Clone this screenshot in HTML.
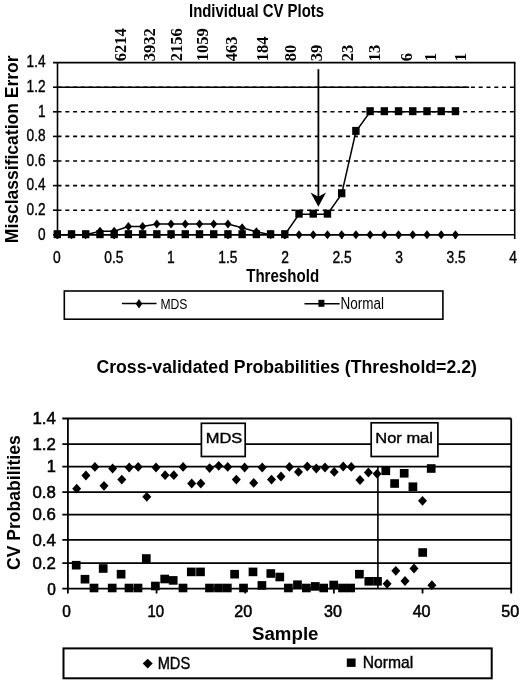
<!DOCTYPE html>
<html><head><meta charset="utf-8"><style>
html,body{margin:0;padding:0;background:#fff;width:520px;height:684px;overflow:hidden}
svg{display:block;will-change:transform}
text{font-family:"Liberation Sans", sans-serif;fill:#000}
</style></head><body>
<svg width="520" height="684" viewBox="0 0 520 684">
<text x="189" y="17" font-size="18.3" font-weight="bold" textLength="135" lengthAdjust="spacingAndGlyphs" text-anchor="start">Individual CV Plots</text>
<text transform="translate(126.2,61.3) rotate(-90)" font-size="17.6" font-weight="bold" textLength="33.0" lengthAdjust="spacingAndGlyphs" text-anchor="start" font-family="Liberation Serif" style="font-family:'Liberation Serif', serif">6214</text>
<text transform="translate(155.0,61.3) rotate(-90)" font-size="17.6" font-weight="bold" textLength="33.0" lengthAdjust="spacingAndGlyphs" text-anchor="start" font-family="Liberation Serif" style="font-family:'Liberation Serif', serif">3932</text>
<text transform="translate(182.2,61.3) rotate(-90)" font-size="17.6" font-weight="bold" textLength="33.0" lengthAdjust="spacingAndGlyphs" text-anchor="start" font-family="Liberation Serif" style="font-family:'Liberation Serif', serif">2156</text>
<text transform="translate(208.3,61.3) rotate(-90)" font-size="17.6" font-weight="bold" textLength="33.0" lengthAdjust="spacingAndGlyphs" text-anchor="start" font-family="Liberation Serif" style="font-family:'Liberation Serif', serif">1059</text>
<text transform="translate(237.1,61.3) rotate(-90)" font-size="17.6" font-weight="bold" textLength="24.75" lengthAdjust="spacingAndGlyphs" text-anchor="start" font-family="Liberation Serif" style="font-family:'Liberation Serif', serif">463</text>
<text transform="translate(268.3,61.3) rotate(-90)" font-size="17.6" font-weight="bold" textLength="24.75" lengthAdjust="spacingAndGlyphs" text-anchor="start" font-family="Liberation Serif" style="font-family:'Liberation Serif', serif">184</text>
<text transform="translate(295.5,61.3) rotate(-90)" font-size="17.6" font-weight="bold" textLength="16.5" lengthAdjust="spacingAndGlyphs" text-anchor="start" font-family="Liberation Serif" style="font-family:'Liberation Serif', serif">80</text>
<text transform="translate(321.8,61.3) rotate(-90)" font-size="17.6" font-weight="bold" textLength="16.5" lengthAdjust="spacingAndGlyphs" text-anchor="start" font-family="Liberation Serif" style="font-family:'Liberation Serif', serif">39</text>
<text transform="translate(352.9,61.3) rotate(-90)" font-size="17.6" font-weight="bold" textLength="16.5" lengthAdjust="spacingAndGlyphs" text-anchor="start" font-family="Liberation Serif" style="font-family:'Liberation Serif', serif">23</text>
<text transform="translate(380.2,61.3) rotate(-90)" font-size="17.6" font-weight="bold" textLength="16.5" lengthAdjust="spacingAndGlyphs" text-anchor="start" font-family="Liberation Serif" style="font-family:'Liberation Serif', serif">13</text>
<text transform="translate(411.5,61.3) rotate(-90)" font-size="17.6" font-weight="bold" textLength="8.25" lengthAdjust="spacingAndGlyphs" text-anchor="start" font-family="Liberation Serif" style="font-family:'Liberation Serif', serif">6</text>
<text transform="translate(436.3,61.3) rotate(-90)" font-size="17.6" font-weight="bold" textLength="8.25" lengthAdjust="spacingAndGlyphs" text-anchor="start" font-family="Liberation Serif" style="font-family:'Liberation Serif', serif">1</text>
<text transform="translate(466.0,61.3) rotate(-90)" font-size="17.6" font-weight="bold" textLength="8.25" lengthAdjust="spacingAndGlyphs" text-anchor="start" font-family="Liberation Serif" style="font-family:'Liberation Serif', serif">1</text>
<g stroke="#000" stroke-width="1.6"><line x1="57.5" y1="111.80" x2="514.7" y2="111.80" stroke-dasharray="4 3.8"/><line x1="57.5" y1="136.40" x2="514.7" y2="136.40" stroke-dasharray="4 3.8"/><line x1="57.5" y1="161.00" x2="514.7" y2="161.00" stroke-dasharray="4 3.8"/><line x1="57.5" y1="185.60" x2="514.7" y2="185.60" stroke-dasharray="4 3.8"/><line x1="57.5" y1="210.20" x2="514.7" y2="210.20" stroke-dasharray="4 3.8"/><line x1="57.5" y1="87.20" x2="514.7" y2="87.20" stroke-dasharray="4 3.8"/><line x1="57.5" y1="87.20" x2="469.2" y2="87.20"/></g>
<g stroke="#000" stroke-width="1.6"><line x1="53" y1="62.6" x2="515.5" y2="62.6"/><line x1="514.7" y1="62.6" x2="514.7" y2="239"/><line x1="57.5" y1="62.6" x2="57.5" y2="239"/><line x1="57.5" y1="234.8" x2="514.7" y2="234.8"/><line x1="53" y1="87.20" x2="57.5" y2="87.20"/><line x1="53" y1="111.80" x2="57.5" y2="111.80"/><line x1="53" y1="136.40" x2="57.5" y2="136.40"/><line x1="53" y1="161.00" x2="57.5" y2="161.00"/><line x1="53" y1="185.60" x2="57.5" y2="185.60"/><line x1="53" y1="210.20" x2="57.5" y2="210.20"/><line x1="53" y1="234.80" x2="57.5" y2="234.80"/><line x1="114.17" y1="234.8" x2="114.17" y2="239"/><line x1="171.05" y1="234.8" x2="171.05" y2="239"/><line x1="227.93" y1="234.8" x2="227.93" y2="239"/><line x1="284.80" y1="234.8" x2="284.80" y2="239"/><line x1="341.68" y1="234.8" x2="341.68" y2="239"/><line x1="398.55" y1="234.8" x2="398.55" y2="239"/><line x1="455.43" y1="234.8" x2="455.43" y2="239"/></g>
<text x="45.6" y="67.3" font-size="16.5" textLength="19" lengthAdjust="spacingAndGlyphs" text-anchor="end" stroke="#000" stroke-width="0.4">1.4</text>
<text x="45.6" y="91.89999999999999" font-size="16.5" textLength="19" lengthAdjust="spacingAndGlyphs" text-anchor="end" stroke="#000" stroke-width="0.4">1.2</text>
<text x="45.6" y="116.5" font-size="16.5" textLength="7.6" lengthAdjust="spacingAndGlyphs" text-anchor="end" stroke="#000" stroke-width="0.4">1</text>
<text x="45.6" y="141.09999999999997" font-size="16.5" textLength="19" lengthAdjust="spacingAndGlyphs" text-anchor="end" stroke="#000" stroke-width="0.4">0.8</text>
<text x="45.6" y="165.7" font-size="16.5" textLength="19" lengthAdjust="spacingAndGlyphs" text-anchor="end" stroke="#000" stroke-width="0.4">0.6</text>
<text x="45.6" y="190.29999999999998" font-size="16.5" textLength="19" lengthAdjust="spacingAndGlyphs" text-anchor="end" stroke="#000" stroke-width="0.4">0.4</text>
<text x="45.6" y="214.9" font-size="16.5" textLength="19" lengthAdjust="spacingAndGlyphs" text-anchor="end" stroke="#000" stroke-width="0.4">0.2</text>
<text x="45.6" y="239.5" font-size="16.5" textLength="7.6" lengthAdjust="spacingAndGlyphs" text-anchor="end" stroke="#000" stroke-width="0.4">0</text>
<text x="56.8" y="263" font-size="17" textLength="7.7" lengthAdjust="spacingAndGlyphs" text-anchor="middle" stroke="#000" stroke-width="0.4">0</text>
<text x="113.85" y="263" font-size="17" textLength="19.2" lengthAdjust="spacingAndGlyphs" text-anchor="middle" stroke="#000" stroke-width="0.4">0.5</text>
<text x="170.89999999999998" y="263" font-size="17" textLength="7.7" lengthAdjust="spacingAndGlyphs" text-anchor="middle" stroke="#000" stroke-width="0.4">1</text>
<text x="227.95" y="263" font-size="17" textLength="19.2" lengthAdjust="spacingAndGlyphs" text-anchor="middle" stroke="#000" stroke-width="0.4">1.5</text>
<text x="285.0" y="263" font-size="17" textLength="7.7" lengthAdjust="spacingAndGlyphs" text-anchor="middle" stroke="#000" stroke-width="0.4">2</text>
<text x="342.05" y="263" font-size="17" textLength="19.2" lengthAdjust="spacingAndGlyphs" text-anchor="middle" stroke="#000" stroke-width="0.4">2.5</text>
<text x="399.09999999999997" y="263" font-size="17" textLength="7.7" lengthAdjust="spacingAndGlyphs" text-anchor="middle" stroke="#000" stroke-width="0.4">3</text>
<text x="456.15" y="263" font-size="17" textLength="19.2" lengthAdjust="spacingAndGlyphs" text-anchor="middle" stroke="#000" stroke-width="0.4">3.5</text>
<text x="513.1999999999999" y="263" font-size="17" textLength="7.7" lengthAdjust="spacingAndGlyphs" text-anchor="middle" stroke="#000" stroke-width="0.4">4</text>
<text x="246.2" y="282.3" font-size="18.6" font-weight="bold" textLength="72.9" lengthAdjust="spacingAndGlyphs" text-anchor="start">Threshold</text>
<text transform="translate(17.7,243.2) rotate(-90)" font-size="18.7" font-weight="bold" textLength="187.8" lengthAdjust="spacingAndGlyphs" text-anchor="start">Misclassification Error</text>
<polyline points="57.30,234.80 71.52,234.80 85.74,234.80 99.96,231.30 114.17,231.30 128.39,226.60 142.61,226.60 156.83,224.10 171.05,224.10 185.27,224.10 199.49,224.10 213.71,224.10 227.93,224.10 242.14,227.70 256.36,231.80 270.58,234.80 284.80,234.80 299.02,234.80 313.24,234.80 327.46,234.80 341.68,234.80 355.89,234.80 370.11,234.80 384.33,234.80 398.55,234.80 412.77,234.80 426.99,234.80 441.21,234.80 455.43,234.80" fill="none" stroke="#000" stroke-width="1.5"/>
<g><path d="M57.30 230.30L60.90 234.80L57.30 239.30L53.70 234.80Z"/><path d="M71.52 230.30L75.12 234.80L71.52 239.30L67.92 234.80Z"/><path d="M85.74 230.30L89.34 234.80L85.74 239.30L82.14 234.80Z"/><path d="M99.96 226.80L103.56 231.30L99.96 235.80L96.36 231.30Z"/><path d="M114.17 226.80L117.77 231.30L114.17 235.80L110.58 231.30Z"/><path d="M128.39 222.10L131.99 226.60L128.39 231.10L124.79 226.60Z"/><path d="M142.61 222.10L146.21 226.60L142.61 231.10L139.01 226.60Z"/><path d="M156.83 219.60L160.43 224.10L156.83 228.60L153.23 224.10Z"/><path d="M171.05 219.60L174.65 224.10L171.05 228.60L167.45 224.10Z"/><path d="M185.27 219.60L188.87 224.10L185.27 228.60L181.67 224.10Z"/><path d="M199.49 219.60L203.09 224.10L199.49 228.60L195.89 224.10Z"/><path d="M213.71 219.60L217.31 224.10L213.71 228.60L210.11 224.10Z"/><path d="M227.93 219.60L231.53 224.10L227.93 228.60L224.33 224.10Z"/><path d="M242.14 223.20L245.74 227.70L242.14 232.20L238.54 227.70Z"/><path d="M256.36 227.30L259.96 231.80L256.36 236.30L252.76 231.80Z"/><path d="M270.58 230.30L274.18 234.80L270.58 239.30L266.98 234.80Z"/><path d="M284.80 230.30L288.40 234.80L284.80 239.30L281.20 234.80Z"/><path d="M299.02 230.30L302.62 234.80L299.02 239.30L295.42 234.80Z"/><path d="M313.24 230.30L316.84 234.80L313.24 239.30L309.64 234.80Z"/><path d="M327.46 230.30L331.06 234.80L327.46 239.30L323.86 234.80Z"/><path d="M341.68 230.30L345.28 234.80L341.68 239.30L338.07 234.80Z"/><path d="M355.89 230.30L359.49 234.80L355.89 239.30L352.29 234.80Z"/><path d="M370.11 230.30L373.71 234.80L370.11 239.30L366.51 234.80Z"/><path d="M384.33 230.30L387.93 234.80L384.33 239.30L380.73 234.80Z"/><path d="M398.55 230.30L402.15 234.80L398.55 239.30L394.95 234.80Z"/><path d="M412.77 230.30L416.37 234.80L412.77 239.30L409.17 234.80Z"/><path d="M426.99 230.30L430.59 234.80L426.99 239.30L423.39 234.80Z"/><path d="M441.21 230.30L444.81 234.80L441.21 239.30L437.61 234.80Z"/><path d="M455.43 230.30L459.03 234.80L455.43 239.30L451.82 234.80Z"/></g>
<polyline points="57.30,234.80 71.52,234.80 85.74,234.80 99.96,234.80 114.17,234.80 128.39,234.80 142.61,234.80 156.83,234.80 171.05,234.80 185.27,234.80 199.49,234.80 213.71,234.80 227.93,234.80 242.14,234.80 256.36,234.80 270.58,234.80 284.80,234.80 299.02,214.26 313.24,214.26 327.46,214.26 341.68,193.84 355.89,131.50 370.11,111.80 384.33,111.80 398.55,111.80 412.77,111.80 426.99,111.80 441.21,111.80 455.43,111.80" fill="none" stroke="#000" stroke-width="1.5"/>
<g><rect x="53.60" y="230.20" width="7.40" height="8.00"/><rect x="67.82" y="230.20" width="7.40" height="8.00"/><rect x="82.04" y="230.20" width="7.40" height="8.00"/><rect x="96.26" y="230.20" width="7.40" height="8.00"/><rect x="110.47" y="230.20" width="7.40" height="8.00"/><rect x="124.69" y="230.20" width="7.40" height="8.00"/><rect x="138.91" y="230.20" width="7.40" height="8.00"/><rect x="153.13" y="230.20" width="7.40" height="8.00"/><rect x="167.35" y="230.20" width="7.40" height="8.00"/><rect x="181.57" y="230.20" width="7.40" height="8.00"/><rect x="195.79" y="230.20" width="7.40" height="8.00"/><rect x="210.01" y="230.20" width="7.40" height="8.00"/><rect x="224.23" y="230.20" width="7.40" height="8.00"/><rect x="238.44" y="230.20" width="7.40" height="8.00"/><rect x="252.66" y="230.20" width="7.40" height="8.00"/><rect x="266.88" y="230.20" width="7.40" height="8.00"/><rect x="281.10" y="230.20" width="7.40" height="8.00"/><rect x="295.32" y="209.66" width="7.40" height="8.00"/><rect x="309.54" y="209.66" width="7.40" height="8.00"/><rect x="323.76" y="209.66" width="7.40" height="8.00"/><rect x="337.98" y="189.24" width="7.40" height="8.00"/><rect x="352.19" y="126.90" width="7.40" height="8.00"/><rect x="366.41" y="107.20" width="7.40" height="8.00"/><rect x="380.63" y="107.20" width="7.40" height="8.00"/><rect x="394.85" y="107.20" width="7.40" height="8.00"/><rect x="409.07" y="107.20" width="7.40" height="8.00"/><rect x="423.29" y="107.20" width="7.40" height="8.00"/><rect x="437.51" y="107.20" width="7.40" height="8.00"/><rect x="451.73" y="107.20" width="7.40" height="8.00"/></g>
<line x1="318.4" y1="69.2" x2="318.4" y2="199" stroke="#000" stroke-width="1.8"/>
<path d="M310.6 192.6L318.4 196.8L326 192.6L318.4 206.8Z"/>
<rect x="64.3" y="291" width="378.6" height="28.2" fill="none" stroke="#000" stroke-width="1.6"/>
<line x1="121.9" y1="303.6" x2="156.5" y2="303.6" stroke="#000" stroke-width="1.5"/>
<path d="M139.00 299.00L142.30 303.80L139.00 308.60L135.70 303.80Z"/>
<text x="160.4" y="309.1" font-size="14.6" textLength="27.0" lengthAdjust="spacingAndGlyphs" text-anchor="start">MDS</text>
<line x1="304.5" y1="303.8" x2="339.6" y2="303.8" stroke="#000" stroke-width="1.5"/>
<rect x="318.40" y="299.80" width="6.00" height="7.00"/>
<text x="340.5" y="309.4" font-size="15.6" textLength="43.5" lengthAdjust="spacingAndGlyphs" text-anchor="start">Normal</text>
<text x="96.4" y="373.1" font-size="17.5" font-weight="bold" textLength="380.5" lengthAdjust="spacingAndGlyphs" text-anchor="start">Cross-validated Probabilities (Threshold=2.2)</text>
<g stroke="#000" stroke-width="1.8"><line x1="62.3" y1="418.5" x2="511.2" y2="418.5"/><line x1="62.3" y1="444.1" x2="511.2" y2="444.1"/><line x1="62.3" y1="466.6" x2="511.2" y2="466.6"/><line x1="62.3" y1="492.2" x2="511.2" y2="492.2"/><line x1="62.3" y1="514.6" x2="511.2" y2="514.6"/><line x1="62.3" y1="539.9" x2="511.2" y2="539.9"/><line x1="62.3" y1="563.2" x2="511.2" y2="563.2"/><line x1="62.3" y1="588.7" x2="511.2" y2="588.7"/><line x1="67.9" y1="418.5" x2="67.9" y2="593.5"/><line x1="511.2" y1="418.5" x2="511.2" y2="593.5"/><line x1="156.56" y1="588.7" x2="156.56" y2="593.5"/><line x1="245.22" y1="588.7" x2="245.22" y2="593.5"/><line x1="333.88" y1="588.7" x2="333.88" y2="593.5"/><line x1="422.54" y1="588.7" x2="422.54" y2="593.5"/></g>
<line x1="377.9" y1="466.6" x2="377.9" y2="588.7" stroke="#000" stroke-width="1.6"/>
<rect x="201.4" y="423.3" width="43.8" height="33.2" fill="#fff" stroke="#000" stroke-width="1.7"/>
<text x="205.7" y="443.3" font-size="15.5" textLength="36.6" lengthAdjust="spacingAndGlyphs" text-anchor="start" stroke="#000" stroke-width="0.4">MDS</text>
<rect x="371.2" y="422.8" width="66.7" height="33.7" fill="#fff" stroke="#000" stroke-width="1.7"/>
<text x="375.3" y="443.1" font-size="15.5" textLength="57.6" lengthAdjust="spacingAndGlyphs" text-anchor="start" stroke="#000" stroke-width="0.4">Nor mal</text>
<text x="55.9" y="424.3" font-size="16.4" textLength="23.4" lengthAdjust="spacingAndGlyphs" text-anchor="end" stroke="#000" stroke-width="0.55">1.4</text>
<text x="55.9" y="449.90000000000003" font-size="16.4" textLength="23.4" lengthAdjust="spacingAndGlyphs" text-anchor="end" stroke="#000" stroke-width="0.55">1.2</text>
<text x="55.9" y="472.40000000000003" font-size="16.4" text-anchor="end" stroke="#000" stroke-width="0.55">1</text>
<text x="55.9" y="498.0" font-size="16.4" textLength="23.4" lengthAdjust="spacingAndGlyphs" text-anchor="end" stroke="#000" stroke-width="0.55">0.8</text>
<text x="55.9" y="520.4" font-size="16.4" textLength="23.4" lengthAdjust="spacingAndGlyphs" text-anchor="end" stroke="#000" stroke-width="0.55">0.6</text>
<text x="55.9" y="545.6999999999999" font-size="16.4" textLength="23.4" lengthAdjust="spacingAndGlyphs" text-anchor="end" stroke="#000" stroke-width="0.55">0.4</text>
<text x="55.9" y="569.0" font-size="16.4" textLength="23.4" lengthAdjust="spacingAndGlyphs" text-anchor="end" stroke="#000" stroke-width="0.55">0.2</text>
<text x="55.9" y="594.5" font-size="16.4" textLength="8.6" lengthAdjust="spacingAndGlyphs" text-anchor="end" stroke="#000" stroke-width="0.55">0</text>
<text x="66.6" y="617.1" font-size="16.4" textLength="8.6" lengthAdjust="spacingAndGlyphs" text-anchor="middle" stroke="#000" stroke-width="0.55">0</text>
<text x="155.8" y="617.1" font-size="16.4" textLength="16.6" lengthAdjust="spacingAndGlyphs" text-anchor="middle" stroke="#000" stroke-width="0.55">10</text>
<text x="243.2" y="617.1" font-size="16.4" textLength="17.9" lengthAdjust="spacingAndGlyphs" text-anchor="middle" stroke="#000" stroke-width="0.55">20</text>
<text x="333.0" y="617.1" font-size="16.4" textLength="17.9" lengthAdjust="spacingAndGlyphs" text-anchor="middle" stroke="#000" stroke-width="0.55">30</text>
<text x="421.6" y="617.1" font-size="16.4" textLength="17.9" lengthAdjust="spacingAndGlyphs" text-anchor="middle" stroke="#000" stroke-width="0.55">40</text>
<text x="510.2" y="617.1" font-size="16.4" textLength="17.9" lengthAdjust="spacingAndGlyphs" text-anchor="middle" stroke="#000" stroke-width="0.55">50</text>
<text x="252" y="640.2" font-size="17.5" font-weight="bold" textLength="66.5" lengthAdjust="spacingAndGlyphs" text-anchor="start">Sample</text>
<text transform="translate(20.0,570.0) rotate(-90)" font-size="19.1" font-weight="bold" textLength="134.8" lengthAdjust="spacingAndGlyphs" text-anchor="start">CV Probabilities</text>
<g><path d="M76.70 483.80L81.20 488.70L76.70 493.60L72.20 488.70Z"/><path d="M85.90 470.60L90.40 475.50L85.90 480.40L81.40 475.50Z"/><path d="M94.90 462.00L99.40 466.90L94.90 471.80L90.40 466.90Z"/><path d="M104.00 480.90L108.50 485.80L104.00 490.70L99.50 485.80Z"/><path d="M112.60 463.60L117.10 468.50L112.60 473.40L108.10 468.50Z"/><path d="M121.80 474.70L126.30 479.60L121.80 484.50L117.30 479.60Z"/><path d="M129.20 462.60L133.70 467.50L129.20 472.40L124.70 467.50Z"/><path d="M138.20 462.00L142.70 466.90L138.20 471.80L133.70 466.90Z"/><path d="M146.80 491.90L151.30 496.80L146.80 501.70L142.30 496.80Z"/><path d="M156.00 462.60L160.50 467.50L156.00 472.40L151.50 467.50Z"/><path d="M165.10 470.30L169.60 475.20L165.10 480.10L160.60 475.20Z"/><path d="M173.80 470.30L178.30 475.20L173.80 480.10L169.30 475.20Z"/><path d="M183.10 462.00L187.60 466.90L183.10 471.80L178.60 466.90Z"/><path d="M191.70 478.60L196.20 483.50L191.70 488.40L187.20 483.50Z"/><path d="M200.80 478.60L205.30 483.50L200.80 488.40L196.30 483.50Z"/><path d="M209.60 463.20L214.10 468.10L209.60 473.00L205.10 468.10Z"/><path d="M218.70 460.90L223.20 465.80L218.70 470.70L214.20 465.80Z"/><path d="M227.70 462.00L232.20 466.90L227.70 471.80L223.20 466.90Z"/><path d="M236.30 474.70L240.80 479.60L236.30 484.50L231.80 479.60Z"/><path d="M244.60 462.60L249.10 467.50L244.60 472.40L240.10 467.50Z"/><path d="M253.70 478.00L258.20 482.90L253.70 487.80L249.20 482.90Z"/><path d="M262.20 462.60L266.70 467.50L262.20 472.40L257.70 467.50Z"/><path d="M271.50 474.70L276.00 479.60L271.50 484.50L267.00 479.60Z"/><path d="M281.00 471.60L285.50 476.50L281.00 481.40L276.50 476.50Z"/><path d="M289.40 462.00L293.90 466.90L289.40 471.80L284.90 466.90Z"/><path d="M298.50 467.00L303.00 471.90L298.50 476.80L294.00 471.90Z"/><path d="M307.30 461.60L311.80 466.50L307.30 471.40L302.80 466.50Z"/><path d="M316.30 463.60L320.80 468.50L316.30 473.40L311.80 468.50Z"/><path d="M325.00 462.60L329.50 467.50L325.00 472.40L320.50 467.50Z"/><path d="M334.20 467.00L338.70 471.90L334.20 476.80L329.70 471.90Z"/><path d="M343.20 461.60L347.70 466.50L343.20 471.40L338.70 466.50Z"/><path d="M351.30 462.00L355.80 466.90L351.30 471.80L346.80 466.90Z"/><path d="M360.00 475.10L364.50 480.00L360.00 484.90L355.50 480.00Z"/><path d="M368.40 467.60L372.90 472.50L368.40 477.40L363.90 472.50Z"/><path d="M377.10 468.90L381.60 473.80L377.10 478.70L372.60 473.80Z"/><path d="M387.10 578.90L391.60 583.80L387.10 588.70L382.60 583.80Z"/><path d="M395.80 565.90L400.30 570.80L395.80 575.70L391.30 570.80Z"/><path d="M405.00 576.10L409.50 581.00L405.00 585.90L400.50 581.00Z"/><path d="M414.00 563.60L418.50 568.50L414.00 573.40L409.50 568.50Z"/><path d="M422.50 495.90L427.00 500.80L422.50 505.70L418.00 500.80Z"/><path d="M431.90 580.30L436.40 585.20L431.90 590.10L427.40 585.20Z"/></g>
<g><rect x="71.85" y="560.90" width="8.70" height="8.60"/><rect x="80.65" y="574.90" width="8.70" height="8.60"/><rect x="89.65" y="583.70" width="8.70" height="8.60"/><rect x="98.85" y="564.20" width="8.70" height="8.60"/><rect x="107.85" y="583.70" width="8.70" height="8.60"/><rect x="116.75" y="569.90" width="8.70" height="8.60"/><rect x="124.65" y="583.70" width="8.70" height="8.60"/><rect x="133.65" y="583.70" width="8.70" height="8.60"/><rect x="141.95" y="554.20" width="8.70" height="8.60"/><rect x="151.05" y="581.70" width="8.70" height="8.60"/><rect x="160.35" y="574.70" width="8.70" height="8.60"/><rect x="168.85" y="576.10" width="8.70" height="8.60"/><rect x="178.65" y="583.70" width="8.70" height="8.60"/><rect x="186.95" y="567.60" width="8.70" height="8.60"/><rect x="196.15" y="567.60" width="8.70" height="8.60"/><rect x="205.15" y="583.70" width="8.70" height="8.60"/><rect x="214.15" y="583.70" width="8.70" height="8.60"/><rect x="222.95" y="583.70" width="8.70" height="8.60"/><rect x="230.25" y="569.90" width="8.70" height="8.60"/><rect x="239.15" y="583.70" width="8.70" height="8.60"/><rect x="248.65" y="567.60" width="8.70" height="8.60"/><rect x="257.55" y="581.10" width="8.70" height="8.60"/><rect x="266.45" y="569.20" width="8.70" height="8.60"/><rect x="275.45" y="572.70" width="8.70" height="8.60"/><rect x="284.05" y="583.70" width="8.70" height="8.60"/><rect x="293.15" y="580.40" width="8.70" height="8.60"/><rect x="302.05" y="583.70" width="8.70" height="8.60"/><rect x="310.95" y="582.10" width="8.70" height="8.60"/><rect x="319.35" y="583.70" width="8.70" height="8.60"/><rect x="329.35" y="580.70" width="8.70" height="8.60"/><rect x="338.15" y="583.70" width="8.70" height="8.60"/><rect x="346.25" y="583.70" width="8.70" height="8.60"/><rect x="355.05" y="569.90" width="8.70" height="8.60"/><rect x="364.45" y="577.00" width="8.70" height="8.60"/><rect x="373.15" y="577.00" width="8.70" height="8.60"/><rect x="381.45" y="466.50" width="8.70" height="8.60"/><rect x="390.25" y="479.20" width="8.70" height="8.60"/><rect x="399.85" y="469.00" width="8.70" height="8.60"/><rect x="408.55" y="482.40" width="8.70" height="8.60"/><rect x="418.35" y="548.20" width="8.70" height="8.60"/><rect x="426.85" y="464.20" width="8.70" height="8.60"/></g>
<rect x="63.5" y="648.4" width="428.2" height="29.9" fill="none" stroke="#000" stroke-width="2"/>
<path d="M147.70 658.70L152.70 663.60L147.70 668.50L142.70 663.60Z"/>
<text x="157.7" y="668.6" font-size="16.2" textLength="32.5" lengthAdjust="spacingAndGlyphs" text-anchor="start" stroke="#000" stroke-width="0.4">MDS</text>
<rect x="346.80" y="658.50" width="8.80" height="8.40"/>
<text x="362.8" y="668.4" font-size="16.2" textLength="50.5" lengthAdjust="spacingAndGlyphs" text-anchor="start" stroke="#000" stroke-width="0.4">Normal</text>
</svg>
</body></html>
